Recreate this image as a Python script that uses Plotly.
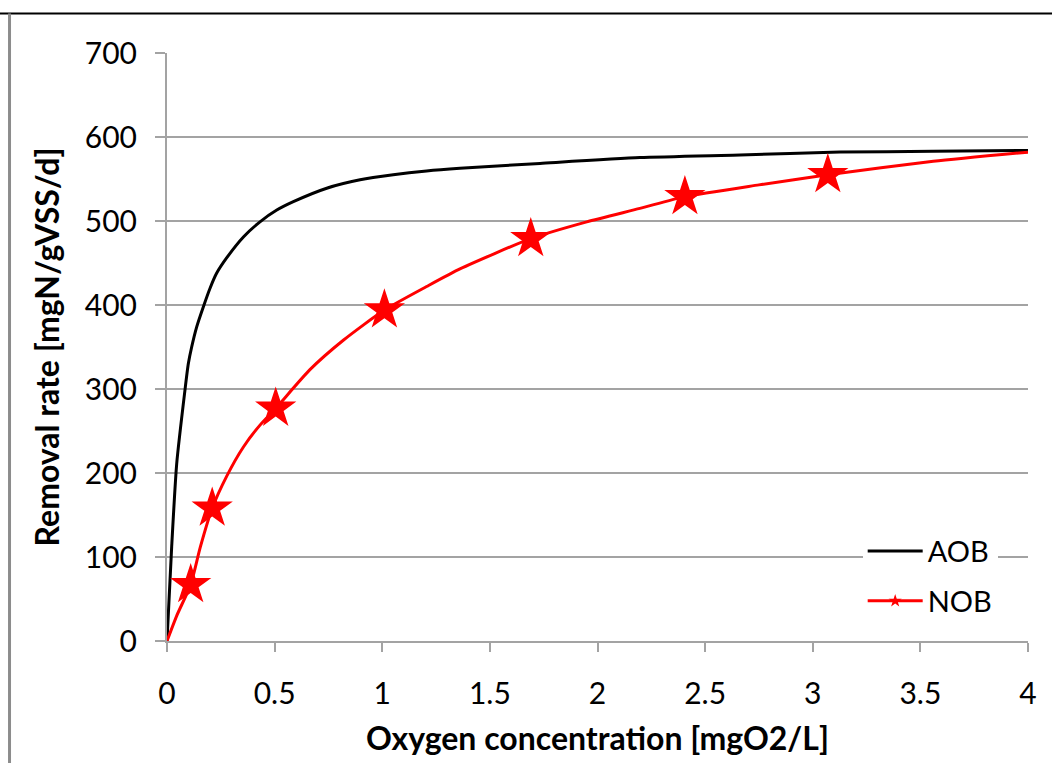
import plotly.graph_objects as go

# AOB curve
aob_x = [0, 0.0217, 0.045, 0.0836, 0.099, 0.1146, 0.138, 0.169, 0.2, 0.231, 0.277, 0.355,
         0.432, 0.51, 0.587, 0.742, 0.897, 1.051, 1.206, 1.361, 1.733, 2.197, 2.662, 3.127, 3.56, 4.0]
aob_y = [0, 112, 211, 299, 330, 350, 374, 398, 420, 438, 456, 481,
         499, 513, 523, 539, 549, 555, 559.5, 562.7, 568.6, 575.5, 578.6, 582, 583, 584]

# NOB curve and the points marked with stars
nob_x = [0, 0.045, 0.11, 0.155, 0.21, 0.277, 0.355, 0.432, 0.505, 0.664, 0.819, 1.01,
         1.206, 1.361, 1.69, 1.95, 2.197, 2.406, 2.75, 3.07, 3.56, 4.0]
nob_y = [0, 30, 67, 112, 158, 196, 231, 257, 277, 323, 358, 394,
         422, 443, 479, 499, 515, 529, 543, 555, 571, 582]
nob_star_x = [0.11, 0.21, 0.505, 1.01, 1.69, 2.406, 3.07]

x_ticks = [0, 0.5, 1, 1.5, 2, 2.5, 3, 3.5, 4]
y_ticks = [0, 100, 200, 300, 400, 500, 600, 700]

FONT = "Lato"
GRID = "rgb(163,163,163)"

star_sizes = [31 if x in nob_star_x else 0 for x in nob_x]

fig = go.Figure()
fig.add_trace(go.Scatter(
    x=aob_x, y=aob_y, name="AOB", mode="lines",
    line=dict(color="black", width=3, shape="spline", smoothing=0.6),
    legendgroup="a",
))
fig.add_trace(go.Scatter(
    x=nob_x, y=nob_y, name="NOB", mode="lines+markers",
    line=dict(color="#ff0000", width=3, shape="spline", smoothing=0.6),
    marker=dict(symbol="star", size=star_sizes, color="#ff0000", opacity=1,
                line=dict(width=0)),
    legendgroup="b",
))

fig.update_layout(
    width=1052, height=763,
    margin=dict(l=167, r=24, t=53, b=122),
    paper_bgcolor="white", plot_bgcolor="white",
    font=dict(family=FONT, size=30, color="black"),
    showlegend=True,
    legend=dict(
        x=0.808, y=0.196, xanchor="left", yanchor="top",
        bgcolor="white", borderwidth=0,
        font=dict(family=FONT, size=29, color="black"),
        itemwidth=55, tracegroupgap=9, traceorder="grouped",
    ),
    xaxis=dict(
        range=[0, 4], tickvals=x_ticks, ticktext=[str(v) for v in x_ticks],
        showgrid=False, zeroline=False,
        showline=True, linecolor=GRID, linewidth=2,
        ticks="outside", ticklen=9, tickwidth=2, tickcolor=GRID,
        ticklabelstandoff=16,
        tickfont=dict(family=FONT, size=30),
        title=dict(text="<b>Oxygen concentration [mgO2/L]</b>",
                   font=dict(family=FONT, size=32), standoff=19),
    ),
    yaxis=dict(
        range=[0, 700], tickvals=y_ticks, ticktext=[str(v) for v in y_ticks],
        showgrid=True, gridcolor=GRID, gridwidth=2,
        zeroline=False,
        showline=True, linecolor=GRID, linewidth=2,
        ticks="outside", ticklen=10, tickwidth=2, tickcolor=GRID,
        ticklabelstandoff=12,
        tickfont=dict(family=FONT, size=30),
        title=dict(text="<b>Removal rate [mgN/gVSS/d]</b>",
                   font=dict(family=FONT, size=32), standoff=16),
    ),
    shapes=[
        dict(type="line", xref="paper", yref="paper", x0=-0.2, x1=1.1,
             y0=1.0672, y1=1.0672, line=dict(color="black", width=2)),
        dict(type="line", xref="paper", yref="paper", x0=-0.1829, x1=-0.1829,
             y0=1.0672, y1=-0.25, line=dict(color="rgb(140,140,140)", width=3)),
    ],
)

fig.write_html("out.html")
